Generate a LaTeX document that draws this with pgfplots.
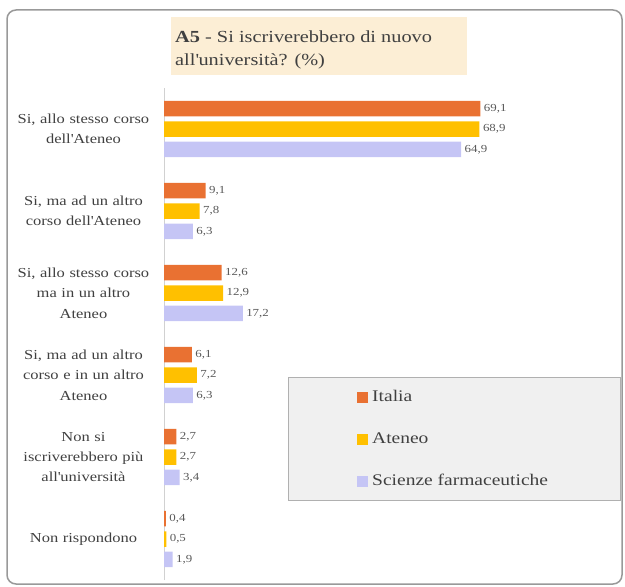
\documentclass[border=0pt]{standalone}
\usepackage{fontspec}
\setmainfont{Liberation Serif}[FakeStretch=1.2]
\usepackage{pgfplots}
\pgfplotsset{compat=1.18}
\definecolor{cItalia}{RGB}{233,113,50}
\definecolor{cAteneo}{RGB}{255,192,0}
\definecolor{cScienze}{RGB}{197,197,245}
\definecolor{titlebg}{RGB}{252,238,213}
\definecolor{legbg}{RGB}{240,240,240}
\definecolor{legline}{RGB}{176,176,176}
\definecolor{txt}{RGB}{64,64,64}
\definecolor{vtxt}{RGB}{89,89,89}
\begin{document}
\begin{tikzpicture}
\begin{scope}[x=1bp,y=1bp]
\useasboundingbox (0,0) rectangle (625,-587);
% outer frame
\draw[color=black!40, line width=1.5bp, rounded corners=9bp] (7,-10) rectangle (622,-584);
% title box
\fill[titlebg] (171,-17) rectangle (467,-75);
\node[anchor=base west, inner sep=0, text=txt, font=\fontsize{17}{23}\selectfont] at (175,-43) {\textbf{A5} - Si iscriverebbero di nuovo};
\node[anchor=base west, inner sep=0, text=txt, font=\fontsize{17}{23}\selectfont] at (175,-66) {all\textquotesingle universit\`a? (\%)};
% legend box
\draw[fill=legbg, draw=legline, line width=0.8bp] (288,-377) rectangle (620,-500);
\end{scope}
\begin{axis}[
  at={(164bp,-580bp)}, anchor=south west,
  scale only axis, width=435bp, height=492bp,
  xmin=0, xmax=95, ymin=-0.5, ymax=5.5,
  enlargelimits=false, clip=false,
  xbar, bar width=15.5bp,
  axis x line=none,
  axis y line=left,
  axis line style={-, draw=black!18, line width=0.8bp},
  ytick={0,1,2,3,4,5},
  major tick length=0pt,
  yticklabels={{Non rispondono},{Non si\\iscriverebbero pi\`u\\all\textquotesingle universit\`a},{Si, ma ad un altro\\corso e in un altro\\Ateneo},{Si, allo stesso corso\\ma in un altro\\Ateneo},{Si, ma ad un altro\\corso dell\textquotesingle Ateneo},{Si, allo stesso corso\\dell\textquotesingle Ateneo}},
  yticklabel style={align=center, text width=140bp, text=txt, font=\fontsize{13.8}{20.5}\selectfont, xshift=-7bp},
  nodes near coords,
  nodes near coords style={font=\fontsize{10.8}{12}\selectfont, text=vtxt},
  /pgf/number format/use comma,
  /pgf/number format/fixed,
  /pgf/number format/fixed zerofill,
  /pgf/number format/precision=1,
  /pgf/number format/assume math mode=true,
  legend style={at={(axis description cs:0.4437,0.388)}, anchor=north west, draw=none, fill=none,
    font=\fontsize{16.3}{19}\selectfont, text=txt, row sep=26bp, column sep=4bp, inner sep=0pt,
    nodes={inner sep=0pt, text height=12bp, text depth=4bp, anchor=west}},
  legend cell align=left,
  legend image code/.code={\fill[#1] (0bp,-5.5bp) rectangle (11bp,5.5bp);},
]
\addplot[fill=cItalia, draw=none, bar shift=20.3bp] coordinates {(69.1,5) (9.1,4) (12.6,3) (6.1,2) (2.7,1) (0.4,0)};
\addplot[fill=cAteneo, draw=none, bar shift=0bp] coordinates {(68.9,5) (7.8,4) (12.9,3) (7.2,2) (2.7,1) (0.5,0)};
\addplot[fill=cScienze, draw=none, bar shift=-20.3bp] coordinates {(64.9,5) (6.3,4) (17.2,3) (6.3,2) (3.4,1) (1.9,0)};
\legend{Italia, Ateneo, Scienze farmaceutiche}
\end{axis}
\end{tikzpicture}
\end{document}
